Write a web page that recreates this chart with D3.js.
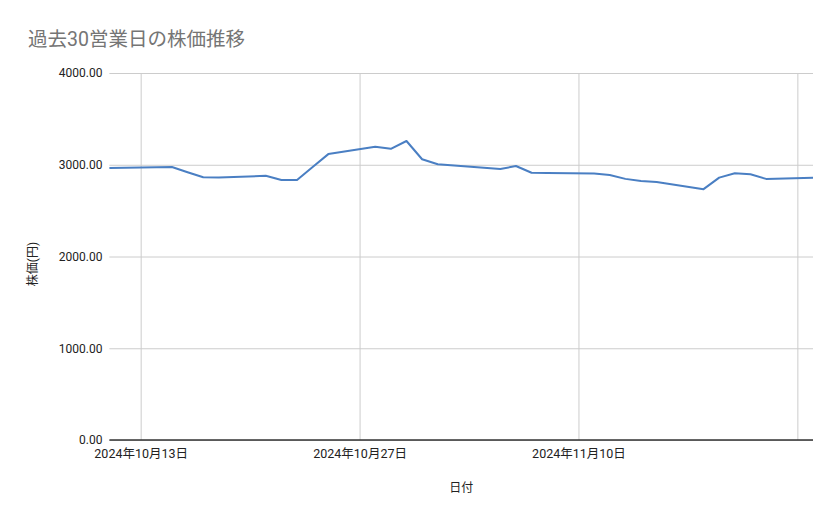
<!DOCTYPE html>
<html>
<head>
<meta charset="utf-8">
<script src="https://cdn.jsdelivr.net/npm/d3@7"></script>
<style>
    body { margin: 0; background: #fff; }
    text { font-family: Roboto, "Noto Sans CJK JP", sans-serif; }
</style>
</head>
<body>
<svg id="drawing_region"></svg>
<script>
// 過去30営業日 (trading days)
const dates = [
    "2024-10-11", "2024-10-15", "2024-10-16", "2024-10-17", "2024-10-18",
    "2024-10-21", "2024-10-22", "2024-10-23", "2024-10-24", "2024-10-25",
    "2024-10-28", "2024-10-29", "2024-10-30", "2024-10-31", "2024-11-01",
    "2024-11-05", "2024-11-06", "2024-11-07", "2024-11-08",
    "2024-11-11", "2024-11-12", "2024-11-13", "2024-11-14", "2024-11-15",
    "2024-11-18", "2024-11-19", "2024-11-20", "2024-11-21", "2024-11-22",
    "2024-11-25"
];
const prices = [
    2965, 2975, 2918, 2863, 2860,
    2880, 2834, 2834, 2975, 3116,
    3196, 3174, 3259, 3060, 3006,
    2954, 2986, 2913, 2910,
    2904, 2889, 2846, 2823, 2812,
    2734, 2860, 2907, 2896, 2846,
    2857
];
const xGridDates = ["2024-10-13", "2024-10-27", "2024-11-10", "2024-11-24"];
const xTickLabels = ["2024年10月13日", "2024年10月27日", "2024年11月10日"];
const yTicks = [0, 1000, 2000, 3000, 4000];

const parse = d3.timeParse("%Y-%m-%d");
const data = dates.map( (d, i) => ({ date: parse(d), value: prices[i] }) );

const config = {
    width: 839,
    height: 519,
    margin: {top:73, right:26, bottom:79, left:109.4}
};

const svg = d3.select('#drawing_region')
    .attr('width', config.width)
    .attr('height', config.height);

const inner_width = config.width - config.margin.left - config.margin.right;
const inner_height = config.height - config.margin.top - config.margin.bottom;

const chart = svg.append('g')
    .attr('transform', `translate(${config.margin.left}, ${config.margin.top})`);

const xscale = d3.scaleTime()
    .domain( [parse("2024-10-11"), parse("2024-11-25")] )
    .range( [0, inner_width] );

const yscale = d3.scaleLinear()
    .domain( [0, 4000] )
    .range( [inner_height, 0] );

// horizontal grid + y labels
const yaxis = d3.axisLeft(yscale)
    .tickValues(yTicks)
    .tickSize(-inner_width)
    .tickPadding(7)
    .tickFormat(d3.format(".2f"));

const yg = chart.append('g').call(yaxis);
yg.select('.domain').remove();
yg.selectAll('.tick line').attr('stroke', '#cccccc');
yg.selectAll('.tick text')
    .attr('fill', '#222')
    .style('font-size', '12px');

// vertical grid
const xaxis = d3.axisBottom(xscale)
    .tickValues(xGridDates.map(parse))
    .tickSize(-inner_height)
    .tickPadding(9)
    .tickFormat( (d, i) => xTickLabels[i] || "" );

const xg = chart.append('g')
    .attr('transform', `translate(0, ${inner_height})`)
    .call(xaxis);
xg.select('.domain').remove();
xg.selectAll('.tick line').attr('stroke', '#cccccc');
xg.selectAll('.tick text')
    .attr('fill', '#222')
    .style('font-size', '12.5px');

// baseline
chart.append('line')
    .attr('x1', 0)
    .attr('x2', inner_width)
    .attr('y1', yscale(0))
    .attr('y2', yscale(0))
    .attr('stroke', '#333')
    .attr('stroke-width', 1.4);

const line = d3.line()
    .x( d => xscale(d.date) )
    .y( d => yscale(d.value) );

chart.append('path')
    .datum(data)
    .attr('d', line)
    .attr('fill', 'none')
    .attr('stroke', '#4a7fc3')
    .attr('stroke-width', 2)
    .attr('stroke-linejoin', 'round');

// title
svg.append('text')
    .attr('x', 28)
    .attr('y', 46)
    .attr('fill', '#757575')
    .style('font-size', '19.5px')
    .text('過去30営業日の株価推移');

// axis titles
svg.append('text')
    .attr('transform', 'rotate(-90)')
    .attr('x', -264)
    .attr('y', 37)
    .style('text-anchor', 'middle')
    .style('font-size', '12px')
    .attr('fill', '#222')
    .text('株価(円)');

svg.append('text')
    .attr('x', config.margin.left + inner_width / 2)
    .attr('y', 492)
    .style('text-anchor', 'middle')
    .style('font-size', '12px')
    .attr('fill', '#222')
    .text('日付');
</script>
</body>
</html>
